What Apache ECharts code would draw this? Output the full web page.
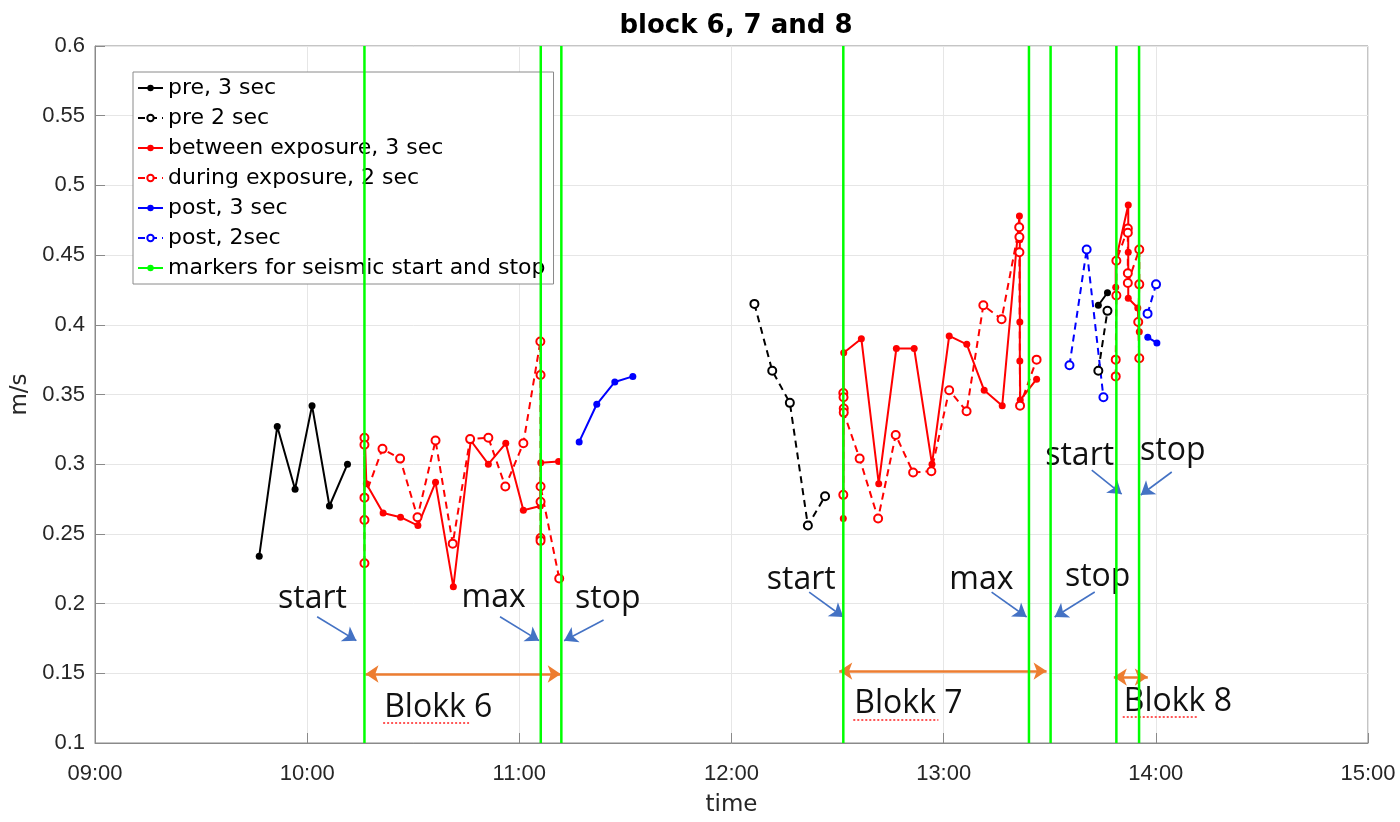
<!DOCTYPE html>
<html>
<head>
<meta charset="utf-8">
<title>block 6, 7 and 8</title>
<script src="https://cdn.jsdelivr.net/npm/echarts@6/dist/echarts.min.js"></script>
<style>
  html, body { margin: 0; padding: 0; background: #ffffff; }
  #chart { width: 1400px; height: 822px; }
</style>
</head>
<body>
<div id="chart"></div>
<script>
// Time is in decimal hours of the day, speed in m/s.
const xTickLabels = ['09:00', '10:00', '11:00', '12:00', '13:00', '14:00', '15:00'];

// pre, 3 sec
const pre3B6Time  = [9.774, 9.859, 9.943, 10.023, 10.105, 10.190];
const pre3B6Speed = [0.234, 0.327, 0.282, 0.342, 0.270, 0.300];
const pre3B8Time  = [13.729, 13.772];
const pre3B8Speed = [0.414, 0.423];

// pre 2 sec
const pre2B7Time  = [12.108, 12.192, 12.275, 12.360, 12.441];
const pre2B7Speed = [0.415, 0.367, 0.344, 0.256, 0.277];
const pre2B8Time  = [13.729, 13.772];
const pre2B8Speed = [0.367, 0.410];

// between exposure, 3 sec
const betweenB6Time  = [10.272, 10.279, 10.358, 10.440, 10.522, 10.605, 10.689, 10.771, 10.854, 10.936, 11.019, 11.099, 11.101, 11.185];
const betweenB6Speed = [0.319, 0.286, 0.265, 0.262, 0.256, 0.287, 0.212, 0.317, 0.300, 0.315, 0.267, 0.270, 0.301, 0.302];
const betweenB7Time  = [12.527, 12.529, 12.612, 12.694, 12.777, 12.861, 12.945, 13.026, 13.109, 13.191, 13.276, 13.357, 13.359, 13.359, 13.359, 13.361, 13.438];
const betweenB7Speed = [0.261, 0.380, 0.390, 0.286, 0.383, 0.383, 0.300, 0.392, 0.386, 0.353, 0.342, 0.478, 0.461, 0.402, 0.374, 0.346, 0.361];
const betweenB8Time  = [13.811, 13.811, 13.870, 13.870, 13.870, 13.915, 13.922];
const betweenB8Speed = [0.427, 0.446, 0.486, 0.452, 0.419, 0.412, 0.395];

// during exposure, 2 sec
const duringB6Time  = [10.270, 10.270, 10.270, 10.270, 10.270, 10.355, 10.438, 10.520, 10.605, 10.686, 10.768, 10.854, 10.934, 11.019, 11.099, 11.100, 11.100, 11.100, 11.100, 11.100, 11.188];
const duringB6Speed = [0.229, 0.319, 0.314, 0.260, 0.276, 0.311, 0.304, 0.262, 0.317, 0.243, 0.318, 0.319, 0.284, 0.315, 0.388, 0.364, 0.247, 0.245, 0.273, 0.284, 0.218];
const duringB7Time  = [12.527, 12.527, 12.528, 12.529, 12.529, 12.604, 12.691, 12.774, 12.856, 12.942, 13.026, 13.108, 13.187, 13.273, 13.356, 13.357, 13.357, 13.360, 13.438];
const duringB7Speed = [0.278, 0.351, 0.348, 0.340, 0.337, 0.304, 0.261, 0.321, 0.294, 0.295, 0.353, 0.338, 0.414, 0.404, 0.470, 0.463, 0.452, 0.342, 0.375];
const duringB8Time  = [13.811, 13.811, 13.814, 13.814, 13.868, 13.868, 13.868, 13.868, 13.922, 13.922, 13.917, 13.922];
const duringB8Speed = [0.363, 0.375, 0.421, 0.446, 0.469, 0.466, 0.437, 0.430, 0.454, 0.429, 0.402, 0.376];

// post, 3 sec
const post3B6Time  = [11.282, 11.365, 11.450, 11.535];
const post3B6Speed = [0.316, 0.343, 0.359, 0.363];
const post3B8Time  = [13.962, 14.005];
const post3B8Speed = [0.391, 0.387];

// post, 2sec
const post2B7Time  = [13.593, 13.674, 13.753];
const post2B7Speed = [0.371, 0.454, 0.348];
const post2B8Time  = [13.961, 14.001];
const post2B8Speed = [0.408, 0.429];

// seismic start / max / stop times
const seismicMarkers = [10.270, 11.101, 11.198, 12.527, 13.402, 13.504, 13.814, 13.921];

const NAMES = {
  pre3: 'pre, 3 sec',
  pre2: 'pre 2 sec',
  between: 'between exposure, 3 sec',
  during: 'during exposure, 2 sec',
  post3: 'post, 3 sec',
  post2: 'post, 2sec',
  markers: 'markers for seismic start and stop'
};

const zip = (t, v) => t.map((x, i) => [x, v[i]]);

function track(name, time, speed, color, open) {
  return {
    name: name,
    type: 'line',
    data: zip(time, speed),
    symbol: open ? 'emptyCircle' : 'circle',
    symbolSize: open ? 8 : 7,
    showSymbol: true,
    lineStyle: { color: color, width: 2, type: open ? [7, 5] : 'solid' },
    itemStyle: { color: color, borderColor: color, borderWidth: open ? 1.6 : 0 },
    emphasis: { disabled: true },
    z: 3,
    animation: false
  };
}

const series = [
  track(NAMES.pre3, pre3B6Time, pre3B6Speed, '#000000', false),
  track(NAMES.pre3, pre3B8Time, pre3B8Speed, '#000000', false),
  track(NAMES.pre2, pre2B7Time, pre2B7Speed, '#000000', true),
  track(NAMES.pre2, pre2B8Time, pre2B8Speed, '#000000', true),
  track(NAMES.between, betweenB6Time, betweenB6Speed, '#ff0000', false),
  track(NAMES.between, betweenB7Time, betweenB7Speed, '#ff0000', false),
  track(NAMES.between, betweenB8Time, betweenB8Speed, '#ff0000', false),
  track(NAMES.during, duringB6Time, duringB6Speed, '#ff0000', true),
  track(NAMES.during, duringB7Time, duringB7Speed, '#ff0000', true),
  track(NAMES.during, duringB8Time, duringB8Speed, '#ff0000', true),
  track(NAMES.post3, post3B6Time, post3B6Speed, '#0000ff', false),
  track(NAMES.post3, post3B8Time, post3B8Speed, '#0000ff', false),
  track(NAMES.post2, post2B7Time, post2B7Speed, '#0000ff', true),
  track(NAMES.post2, post2B8Time, post2B8Speed, '#0000ff', true)
];

// vertical seismic marker lines spanning the whole y range
seismicMarkers.forEach(t => {
  series.push({
    name: NAMES.markers,
    type: 'line',
    data: [[t, 0.1], [t, 0.6]],
    symbol: 'none',
    lineStyle: { color: '#00ff00', width: 2.5 },
    itemStyle: { color: '#00ff00' },
    emphasis: { disabled: true },
    z: 5,
    animation: false
  });
});

// annotation layer: labels, arrows and block spans
const noteFont = { fontFamily: 'Open Sans', fontSize: 32, color: '#111111' };
const noteTexts = [
  ['start', 10.025, 0.2033], ['max', 10.879, 0.204], ['stop', 11.417, 0.2033],
  ['start', 12.329, 0.2169], ['max', 13.178, 0.2169], ['stop', 13.726, 0.219],
  ['start', 13.641, 0.3059], ['stop', 14.080, 0.3095],
  ['Blokk 6', 10.618, 0.1255], ['Blokk 7', 12.834, 0.1277], ['Blokk 8', 14.104, 0.1298]
];
const blueArrows = [
  [[10.047, 0.1906], [10.232, 0.1734]],
  [[10.909, 0.1906], [11.093, 0.1734]],
  [[11.397, 0.1882], [11.211, 0.1734]],
  [[12.366, 0.2083], [12.527, 0.1904]],
  [[13.226, 0.2083], [13.391, 0.1904]],
  [[13.712, 0.2083], [13.523, 0.1904]],
  [[13.698, 0.2958], [13.839, 0.2786]],
  [[14.075, 0.2944], [13.929, 0.2779]]
];
const blockSpans = [
  [[10.275, 0.1495], [11.195, 0.1495]],
  [[12.508, 0.1516], [13.485, 0.1516]],
  [[13.802, 0.1473], [13.962, 0.1473]]
];
const spellMarks = [
  [[10.358, 0.1148], [10.763, 0.1148]],
  [[12.574, 0.1167], [12.975, 0.1167]],
  [[13.844, 0.1189], [14.198, 0.1189]]
];

const seg = pairs => pairs.map(p => [{ coord: p[0] }, { coord: p[1] }]);

series.push({
  name: 'notes',
  type: 'line',
  data: [],
  silent: true,
  animation: false,
  markPoint: {
    silent: true,
    animation: false,
    symbol: 'circle',
    symbolSize: 1,
    itemStyle: { color: 'rgba(0,0,0,0)' },
    label: Object.assign({ show: true, position: 'inside', formatter: '{b}' }, noteFont),
    data: noteTexts.map(n => ({ name: n[0], coord: [n[1], n[2]] }))
  },
  markLine: {
    silent: true,
    animation: false,
    symbol: ['none', 'arrow'],
    symbolSize: 13,
    label: { show: false },
    lineStyle: { color: '#4472c4', width: 1.6, type: 'solid' },
    data: seg(blueArrows)
  },
  z: 6
});
series.push({
  name: 'spans',
  type: 'line',
  data: [],
  silent: true,
  animation: false,
  markLine: {
    silent: true,
    animation: false,
    symbol: ['arrow', 'arrow'],
    symbolSize: 13,
    label: { show: false },
    lineStyle: { color: '#ed7d31', width: 2.6, type: 'solid' },
    data: seg(blockSpans)
  },
  z: 6
});
series.push({
  name: 'spell',
  type: 'line',
  data: [],
  silent: true,
  animation: false,
  markLine: {
    silent: true,
    animation: false,
    symbol: ['none', 'none'],
    label: { show: false },
    lineStyle: { color: '#ff2020', width: 1.5, type: [2, 2] },
    data: seg(spellMarks)
  },
  z: 6
});

const axisGray = '#262626';
const tickFont = { fontFamily: 'Liberation Sans', fontSize: 22, color: axisGray };
const chart = echarts.init(document.getElementById('chart'), null, { renderer: 'canvas' });
chart.setOption({
  animation: false,
  backgroundColor: '#ffffff',
  title: {
    text: 'block 6, 7 and 8',
    left: 731,
    textAlign: 'center',
    top: 8,
    textStyle: { fontFamily: 'DejaVu Sans', fontWeight: 'bold', fontSize: 26, color: '#000000' }
  },
  grid: {
    left: 95, right: 32, top: 46, bottom: 79,
    show: true, borderColor: '#8a8a8a', borderWidth: 1, backgroundColor: 'transparent'
  },
  legend: {
    data: [NAMES.pre3, NAMES.pre2, NAMES.between, NAMES.during, NAMES.post3, NAMES.post2, NAMES.markers],
    orient: 'vertical',
    left: 133,
    top: 72,
    padding: [4, 8, 4, 4],
    itemGap: 6,
    itemWidth: 25,
    itemHeight: 8,
    backgroundColor: '#ffffff',
    borderColor: '#8a8a8a',
    borderWidth: 1,
    selectedMode: false,
    textStyle: { fontFamily: 'DejaVu Sans', fontSize: 22, lineHeight: 24, color: '#000000' }
  },
  xAxis: {
    type: 'value',
    min: 9,
    max: 15,
    interval: 1,
    name: 'time',
    nameLocation: 'middle',
    nameGap: 51,
    nameTextStyle: { fontFamily: 'DejaVu Sans', fontSize: 23, color: axisGray },
    axisLine: { show: true, onZero: false, lineStyle: { color: '#8a8a8a', width: 1 } },
    axisTick: { show: true, inside: true, length: 10, lineStyle: { color: '#8a8a8a' } },
    axisLabel: Object.assign({
      margin: 20,
      formatter: v => xTickLabels[Math.round(v - 9)]
    }, tickFont),
    splitLine: { show: true, lineStyle: { color: '#e6e6e6', width: 1 } }
  },
  yAxis: {
    type: 'value',
    min: 0.1,
    max: 0.6,
    interval: 0.05,
    name: 'm/s',
    nameLocation: 'middle',
    nameRotate: 90,
    nameGap: 57,
    nameTextStyle: { fontFamily: 'DejaVu Sans', fontSize: 23, color: axisGray },
    axisLine: { show: true, lineStyle: { color: '#8a8a8a', width: 1 } },
    axisTick: { show: true, inside: true, length: 10, lineStyle: { color: '#8a8a8a' } },
    axisLabel: Object.assign({
      margin: 10,
      formatter: v => String(Number(v.toFixed(2)))
    }, tickFont),
    splitLine: { show: true, lineStyle: { color: '#e6e6e6', width: 1 } }
  },
  series: series
});
</script>
</body>
</html>
